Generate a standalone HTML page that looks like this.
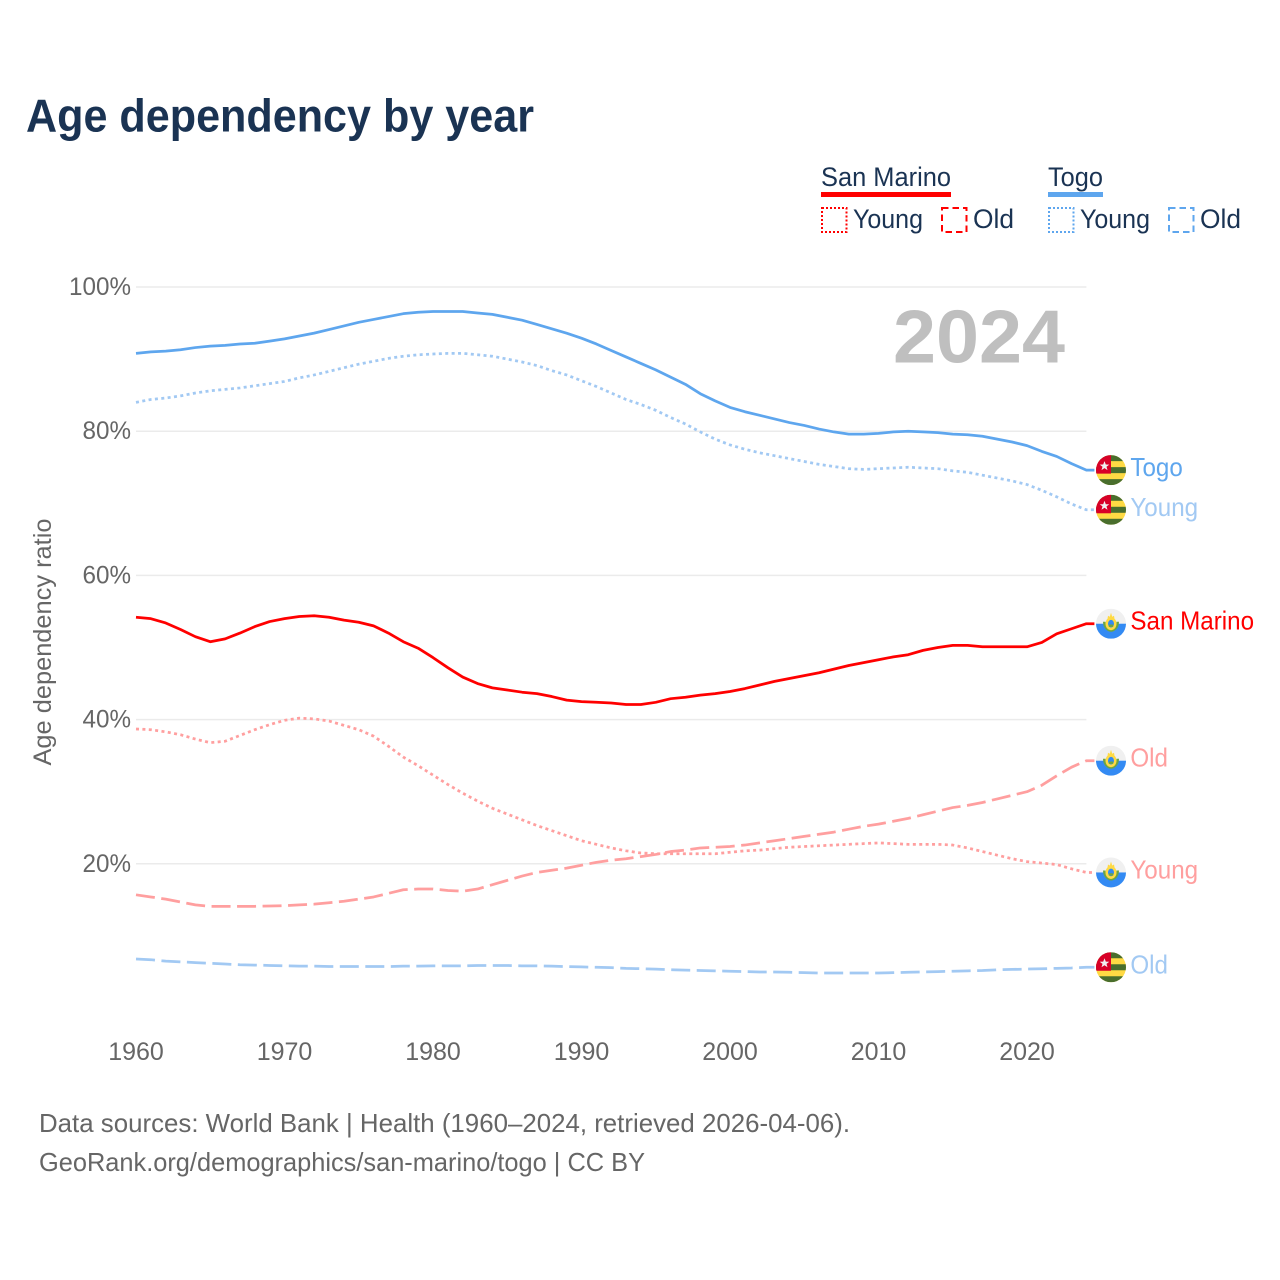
<!DOCTYPE html>
<html lang="en">
<head>
<meta charset="utf-8">
<title>Age dependency by year</title>
<style>
html,body{margin:0;padding:0;background:#fff;}
svg{display:block;font-family:"Liberation Sans",sans-serif;}
</style>
</head>
<body>
<svg id="chart" xmlns="http://www.w3.org/2000/svg" width="1280" height="1280" viewBox="0 0 1280 1280">
  <defs>
    <clipPath id="flag-clip"><circle cx="0" cy="0" r="15"/></clipPath>
    <polygon id="star-shape" points="0,-5 1.3,-1.6 4.8,-1.5 2,0.6 3,4 0,2 -3,4 -2,0.6 -4.8,-1.5 -1.3,-1.6" fill="#f0f0f0"/>
    <g id="flag-togo" clip-path="url(#flag-clip)">
      <rect x="-15" y="-15" width="30" height="30" fill="#ffda44"/>
      <rect x="-15" y="-15" width="30" height="6" fill="#496e2d"/>
      <rect x="-15" y="-3" width="30" height="6" fill="#496e2d"/>
      <rect x="-15" y="9" width="30" height="6" fill="#496e2d"/>
      <rect x="-15" y="-15" width="15" height="18.5" fill="#d80027"/>
      <use href="#star-shape" x="-6.5" y="-4"/>
    </g>
    <g id="flag-san-marino" clip-path="url(#flag-clip)">
      <rect x="-15" y="-15" width="30" height="15" fill="#f0f0f0"/>
      <rect x="-15" y="0" width="30" height="15" fill="#338af3"/>
      <path d="M-8-2C-8 4-4 8 0 8C4 8 8 4 8-2L5.500-2C5.500 3 3 5.500 0 5.500C-3 5.500-5.500 3-5.500-2Z" fill="#6da544"/>
      <ellipse cx="0" cy="0" rx="5.500" ry="6.500" fill="#ffda44"/>
      <ellipse cx="0" cy="0" rx="3" ry="3.800" fill="#338af3"/>
      <rect x="-2.200" y="0.800" width="4.400" height="2.400" fill="#6da544"/>
      <path d="M-3.500-5L-3-8L-1.200-7L0-11L1.200-7L3-8L3.500-5Z" fill="#ffda44"/>
    </g>
  </defs>

  <text x="26" y="131.5" font-size="46" font-weight="700" fill="#1a3353" textLength="508" lengthAdjust="spacingAndGlyphs">Age dependency by year</text>

  <g fill="#1a3353" font-size="27">
    <text x="821" y="186" textLength="130" lengthAdjust="spacingAndGlyphs">San Marino</text>
    <rect x="821" y="192" width="130" height="5" fill="#ff0000"/>
    <rect x="822" y="208" width="24.5" height="24" fill="none" stroke="#ff0000" stroke-width="2" stroke-dasharray="2 2"/>
    <text x="853" y="228" textLength="70" lengthAdjust="spacingAndGlyphs">Young</text>
    <rect x="942" y="208" width="24.5" height="24" fill="none" stroke="#ff0000" stroke-width="2" stroke-dasharray="6.5 4"/>
    <text x="973" y="228" textLength="41" lengthAdjust="spacingAndGlyphs">Old</text>
    <text x="1048" y="186" textLength="55" lengthAdjust="spacingAndGlyphs">Togo</text>
    <rect x="1048" y="192" width="55" height="5" fill="#5ea6ee"/>
    <rect x="1049" y="208" width="24.5" height="24" fill="none" stroke="#5ea6ee" stroke-width="2" stroke-dasharray="2 2"/>
    <text x="1080" y="228" textLength="70" lengthAdjust="spacingAndGlyphs">Young</text>
    <rect x="1169" y="208" width="24.5" height="24" fill="none" stroke="#5ea6ee" stroke-width="2" stroke-dasharray="6.5 4"/>
    <text x="1200" y="228" textLength="41" lengthAdjust="spacingAndGlyphs">Old</text>
  </g>

  <g id="grid"></g>
  <g id="y-ticks"></g>
  <g id="x-ticks"></g>

  <text transform="translate(51 642) rotate(-90)" text-anchor="middle" font-size="25" fill="#666666" textLength="247" lengthAdjust="spacingAndGlyphs">Age dependency ratio</text>

  <text x="893" y="362.5" font-size="75" font-weight="700" fill="#bfbfbf" textLength="172" lengthAdjust="spacingAndGlyphs">2024</text>

  <g id="series"></g>
  <g id="end-labels"></g>

  <g font-size="26" fill="#666666">
    <text x="39" y="1132" textLength="811" lengthAdjust="spacingAndGlyphs">Data sources: World Bank | Health (1960–2024, retrieved 2026-04-06).</text>
    <text x="39" y="1171" textLength="606" lengthAdjust="spacingAndGlyphs">GeoRank.org/demographics/san-marino/togo | CC BY</text>
  </g>
</svg>

<script>
var startYear = 1960;
var yTickValues = [20, 40, 60, 80, 100];
var xTickValues = [1960, 1970, 1980, 1990, 2000, 2010, 2020];

var togoTotal = [
  90.8,91.0,91.1,91.3,91.6,91.8,91.9,92.1,92.2,92.5,
  92.8,93.2,93.6,94.1,94.6,95.1,95.5,95.9,96.3,96.5,
  96.6,96.6,96.6,96.4,96.2,95.8,95.4,94.8,94.2,93.6,
  92.9,92.1,91.2,90.3,89.4,88.5,87.5,86.5,85.2,84.2,
  83.3,82.7,82.2,81.7,81.2,80.8,80.3,79.9,79.6,79.6,
  79.7,79.9,80.0,79.9,79.8,79.6,79.5,79.3,78.9,78.5,
  78.0,77.2,76.5,75.5,74.6
];
var togoYoung = [
  84.0,84.4,84.6,84.9,85.3,85.6,85.8,86.0,86.3,86.6,
  86.9,87.4,87.8,88.3,88.8,89.3,89.7,90.1,90.4,90.6,
  90.7,90.8,90.8,90.6,90.4,90.0,89.6,89.1,88.4,87.8,
  87.0,86.2,85.3,84.4,83.7,82.9,81.9,81.0,79.9,78.9,
  78.1,77.5,77.0,76.6,76.2,75.8,75.4,75.1,74.8,74.7,
  74.8,74.9,75.0,74.9,74.8,74.5,74.3,73.9,73.5,73.1,
  72.6,71.8,70.9,69.9,69.1
];
var togoOld = [
  6.8,6.7,6.5,6.4,6.3,6.2,6.1,6.0,5.95,5.9,
  5.85,5.8,5.8,5.75,5.75,5.75,5.75,5.75,5.8,5.8,
  5.85,5.85,5.85,5.9,5.9,5.9,5.85,5.85,5.8,5.75,
  5.7,5.65,5.6,5.5,5.45,5.4,5.3,5.25,5.2,5.15,
  5.1,5.05,5.0,5.0,4.95,4.9,4.85,4.85,4.85,4.85,
  4.85,4.9,4.95,5.0,5.05,5.1,5.15,5.2,5.3,5.35,
  5.4,5.45,5.5,5.55,5.65
];
var sanMarinoTotal = [
  54.2,54.0,53.4,52.5,51.5,50.8,51.2,52.0,52.9,53.6,
  54.0,54.3,54.4,54.2,53.8,53.5,53.0,52.0,50.8,49.9,
  48.6,47.2,45.9,45.0,44.4,44.1,43.8,43.6,43.2,42.7,
  42.5,42.4,42.3,42.1,42.1,42.4,42.9,43.1,43.4,43.6,
  43.9,44.3,44.8,45.3,45.7,46.1,46.5,47.0,47.5,47.9,
  48.3,48.7,49.0,49.6,50.0,50.3,50.3,50.1,50.1,50.1,
  50.1,50.7,51.9,52.6,53.3
];
var sanMarinoYoung = [
  38.7,38.6,38.3,37.9,37.3,36.8,37.0,37.8,38.6,39.3,
  39.9,40.2,40.1,39.8,39.2,38.6,37.7,36.3,34.8,33.6,
  32.3,31.0,29.8,28.7,27.7,26.9,26.1,25.3,24.6,23.9,
  23.2,22.7,22.2,21.8,21.5,21.4,21.4,21.4,21.4,21.4,
  21.6,21.8,21.9,22.1,22.3,22.4,22.5,22.6,22.7,22.8,
  22.9,22.8,22.7,22.7,22.7,22.6,22.2,21.7,21.2,20.7,
  20.3,20.1,19.9,19.3,18.8
];
var sanMarinoOld = [
  15.7,15.4,15.1,14.7,14.3,14.1,14.1,14.1,14.1,14.15,
  14.2,14.3,14.4,14.6,14.8,15.1,15.4,15.9,16.4,16.5,
  16.5,16.3,16.2,16.5,17.1,17.7,18.3,18.8,19.1,19.4,
  19.8,20.2,20.5,20.7,21.0,21.3,21.7,21.9,22.2,22.3,
  22.4,22.6,22.9,23.2,23.5,23.8,24.1,24.4,24.8,25.2,
  25.5,25.9,26.3,26.8,27.3,27.8,28.1,28.5,29.0,29.5,
  30.0,30.9,32.2,33.4,34.3
];

var NS = 'http://www.w3.org/2000/svg';
function xScale(year) { return 136 + (year - 1960) * 14.85; }
function yScale(value) { return 1008 - value * 7.21; }

var gridG = document.getElementById('grid');
var yG = document.getElementById('y-ticks');
var xG = document.getElementById('x-ticks');
var seriesG = document.getElementById('series');
var labelsG = document.getElementById('end-labels');

yTickValues.forEach(function (v) {
  var line = document.createElementNS(NS, 'line');
  
  
  line.setAttribute('x1', xScale(1960));
  line.setAttribute('x2', xScale(2024));
  line.setAttribute('y1', yScale(v));
  line.setAttribute('y2', yScale(v));
  line.setAttribute('stroke', '#ebebeb');
  line.setAttribute('stroke-width', '1.5');
  gridG.appendChild(line);

  var t = document.createElementNS(NS, 'text');
  
  
  t.setAttribute('x', 131);
  t.setAttribute('y', yScale(v) + 8);
  t.setAttribute('text-anchor', 'end');
  t.setAttribute('font-size', '25');
  t.setAttribute('fill', '#666666');
  t.textContent = v + '%';
  yG.appendChild(t);
  t.setAttribute('textLength', (t.getComputedTextLength() * 0.97).toFixed(1));
  t.setAttribute('lengthAdjust', 'spacingAndGlyphs');
});

xTickValues.forEach(function (y) {
  var t = document.createElementNS(NS, 'text');
  
  
  t.setAttribute('x', xScale(y));
  t.setAttribute('y', 1060);
  t.setAttribute('text-anchor', 'middle');
  t.setAttribute('font-size', '25');
  t.setAttribute('fill', '#666666');
  t.textContent = y;
  xG.appendChild(t);
});

function drawSeries(name, values, color, dash, flag, label) {
  var d = '';
  values.forEach(function (v, i) {
    d += (i ? 'L' : 'M') + xScale(startYear + i).toFixed(2) + ' ' + yScale(v).toFixed(2);
  });
  var last = values[values.length - 1];
  var endX = xScale(startYear + values.length - 1);
  d += 'L' + (endX + 8).toFixed(2) + ' ' + yScale(last).toFixed(2);

  var p = document.createElementNS(NS, 'path');
  
  
  p.setAttribute('d', d);
  p.setAttribute('fill', 'none');
  p.setAttribute('stroke', color);
  p.setAttribute('stroke-width', '2.75');
  p.setAttribute('stroke-linejoin', 'round');
  if (dash) p.setAttribute('stroke-dasharray', dash);
  seriesG.appendChild(p);

  var u = document.createElementNS(NS, 'use');
  
  
  u.setAttribute('href', '#' + flag);
  u.setAttribute('transform', 'translate(' + (endX + 24.6).toFixed(2) + ' ' + yScale(last).toFixed(2) + ')');
  labelsG.appendChild(u);

  var t = document.createElementNS(NS, 'text');
  
  
  t.setAttribute('x', endX + 44);
  t.setAttribute('y', yScale(last) + 6);
  t.setAttribute('font-size', '26');
  t.setAttribute('fill', color);
  t.textContent = label;
  labelsG.appendChild(t);
  t.setAttribute('textLength', (t.getComputedTextLength() * 0.93).toFixed(1));
  t.setAttribute('lengthAdjust', 'spacingAndGlyphs');
}

var dotted = '3 3.4';
var dashed = '19 6.5';
drawSeries('togo-old', togoOld, '#a2c9f3', dashed, 'flag-togo', 'Old');
drawSeries('san-marino-old', sanMarinoOld, '#ff9f9f', dashed, 'flag-san-marino', 'Old');
drawSeries('san-marino-young', sanMarinoYoung, '#ff9f9f', dotted, 'flag-san-marino', 'Young');
drawSeries('togo-young', togoYoung, '#a2c9f3', dotted, 'flag-togo', 'Young');
drawSeries('san-marino-total', sanMarinoTotal, '#ff0000', '', 'flag-san-marino', 'San Marino');
drawSeries('togo-total', togoTotal, '#5ea6ee', '', 'flag-togo', 'Togo');
</script>
</body>
</html>
